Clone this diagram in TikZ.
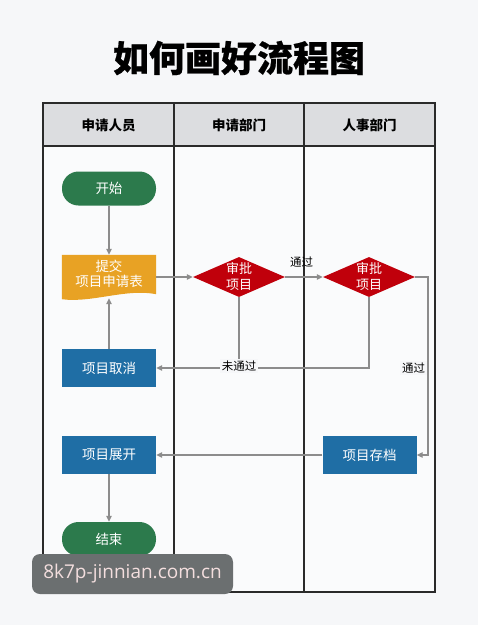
\documentclass[tikz,border=0pt]{standalone}
\usepackage{fontspec}
\setmainfont{Noto Sans CJK SC}
\newfontfamily\wmfont{Open Sans}
\usetikzlibrary{arrows.meta,shapes.geometric}
\definecolor{bgc}{HTML}{F6F7F9}
\definecolor{tablebg}{HTML}{FAFBFC}
\definecolor{headbg}{HTML}{DCDDE0}
\definecolor{linec}{HTML}{2A2A2A}
\definecolor{connc}{HTML}{8C8C8C}
\definecolor{greenc}{HTML}{2C7A4C}
\definecolor{orangec}{HTML}{E8A224}
\definecolor{bluec}{HTML}{1F6EA5}
\definecolor{redc}{HTML}{C0000B}
\definecolor{wmgray}{HTML}{6B6F70}
\definecolor{wmtext}{HTML}{F3DEDE}
\tikzset{
  tbl/.style={draw=linec, line width=1.1pt},
  headtxt/.style={font=\fontsize{13.5}{16}\selectfont\bfseries, text=black},
  pill/.style={rectangle, rounded corners=16.5pt, fill=greenc, minimum width=94pt, minimum height=34pt, inner sep=0pt, text=white, font=\fontsize{13.5}{16}\selectfont},
  procbox/.style={rectangle, fill=bluec, minimum width=94pt, minimum height=38pt, inner sep=0pt, text=white, font=\fontsize{13.5}{16}\selectfont},
  docbox/.style={rectangle, minimum width=94pt, minimum height=44pt, inner sep=0pt, text=white, align=center, font=\fontsize{13.5}{15}\selectfont},
  decision/.style={diamond, aspect=2.3, fill=redc, minimum width=92pt, minimum height=40pt, inner sep=0pt, text=white, align=center, font=\fontsize{13}{16}\selectfont},
  conn/.style={draw=connc, line width=1.1pt, -{Triangle[length=6pt,width=5.5pt]}},
  plainconn/.style={draw=connc, line width=1.1pt},
  lbl/.style={fill=bgc, inner sep=2pt, text=black, font=\fontsize{11.5}{13}\selectfont}
}
\begin{document}
\begin{tikzpicture}[x=1pt,y=-1pt]
\useasboundingbox (0,0) rectangle (478,625);
\fill[bgc] (0,0) rectangle (478,625);
% title
\node (title) at (239,58) {\fontsize{36}{40}\selectfont\bfseries\addfontfeature{FakeBold=0.6}如何画好流程图};
% table
\fill[tablebg] (43,146) rectangle (435,592);
\fill[headbg] (43,103) rectangle (435,146);
\draw[tbl] (43,103) rectangle (435,592);
\draw[tbl] (43,146) -- (435,146);
\draw[tbl] (174,103) -- (174,592);
\draw[tbl] (304,103) -- (304,592);
\node[headtxt] (h1) at (108.5,125) {申请人员};
\node[headtxt] (h2) at (239,125) {申请部门};
\node[headtxt] (h3) at (369.5,125) {人事部门};
% nodes
\node[pill] (start) at (109,188.5) {开始};
\node[docbox] (submit) at (109,277) {};
\fill[orangec] (submit.north west) -- (submit.north east) -- ([yshift=5pt]submit.south east)
  .. controls ([xshift=-30pt,yshift=11pt]submit.south east) and ([xshift=30pt,yshift=-4pt]submit.south west) .. (submit.south west) -- cycle;
\node[docbox] (submittxt) at (109,274) {提交\\项目申请表};
\node[decision] (d1) at (239,277) {审批\\项目};
\node[decision] (d2) at (369,277) {审批\\项目};
\node[procbox] (cancel) at (109,368) {项目取消};
\node[procbox] (expand) at (109,455) {项目展开};
\node[procbox] (archive) at (369.5,455) {项目存档};
\node[pill] (end) at (109,539) {结束};
\coordinate (join) at (239,368);
\coordinate (rturn) at (428,277);
% connectors
\draw[conn] (start) -- (submit);
\draw[conn] (submit.east) -- (d1.west);
\draw[conn] (d1.east) -- (d2.west);
\node[font=\fontsize{11.5}{13}\selectfont] (pass1) at (301.5,262) {通过};
\draw[plainconn] (d2.south) |- (join);
\draw[conn] (d1.south) |- (cancel.east);
\node[lbl] (fail) at (239,366) {未通过};
\draw[conn] (cancel.north) -- ([yshift=1pt]submit.south);
\draw[conn] (d2.east) -- (rturn) |- (archive.east);
\node[lbl] (pass2) at (413.5,368) {通过};
\draw[conn] (archive.west) -- (expand.east);
\draw[conn] (expand) -- (end);
% watermark
\node[fill=wmgray, rounded corners=8pt, minimum width=201pt, minimum height=40pt, inner sep=0pt, text=wmtext, font=\wmfont\fontsize{19}{22}\selectfont] (wm) at (132.5,574) {8k7p-jinnian.com.cn};
\end{tikzpicture}
\end{document}
